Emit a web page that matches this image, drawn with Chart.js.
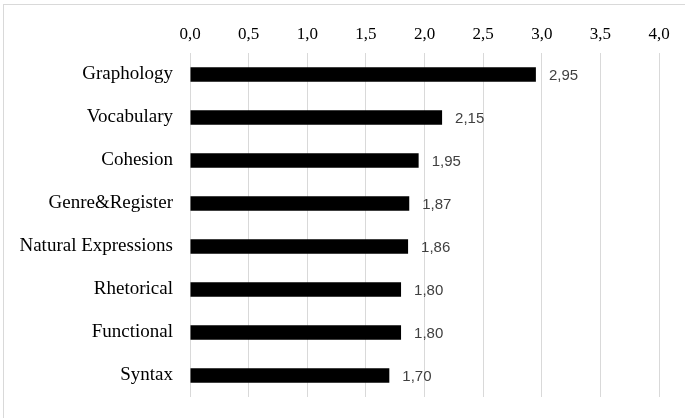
<!DOCTYPE html>
<html>
<head>
<meta charset="utf-8">
<script src="https://cdn.jsdelivr.net/npm/chart.js@4/dist/chart.umd.min.js"></script>
<style>
  html, body { margin: 0; padding: 0; background: #fff; }
  #wrap { width: 685px; height: 418px; }
</style>
</head>
<body>
<div id="wrap"><canvas id="myChart" width="685" height="418"></canvas></div>
<script>
// Données du graphique
const categories = ['Graphology', 'Vocabulary', 'Cohesion', 'Genre&Register', 'Natural Expressions', 'Rhetorical', 'Functional', 'Syntax'];
const scores = [2.95, 2.15, 1.95, 1.87, 1.86, 1.80, 1.80, 1.70];
const xTickValues = [0, 0.5, 1, 1.5, 2, 2.5, 3, 3.5, 4];

const serif = "'Liberation Serif', 'DejaVu Serif', serif";

// format décimal avec virgule
function fr(v, d) {
    return Number(v).toFixed(d).replace('.', ',');
}

// étiquettes de valeur au bout des barres
const valueLabels = {
    id: 'valueLabels',
    afterDatasetsDraw(chart) {
        const ctx = chart.ctx;
        const meta = chart.getDatasetMeta(0);
        const xScale = chart.scales.x;
        ctx.save();
        ctx.fillStyle = '#404040';
        ctx.font = "15px 'Liberation Sans', Arial, sans-serif";
        ctx.textAlign = 'left';
        ctx.textBaseline = 'middle';
        meta.data.forEach((bar, i) => {
            const v = chart.data.datasets[0].data[i];
            ctx.fillText(fr(v, 2), xScale.getPixelForValue(v) + 13, bar.y + 1);
        });
        ctx.restore();
    }
};

// cadre gris autour du graphique
const frame = {
    id: 'frame',
    beforeDraw(chart) {
        const ctx = chart.ctx;
        ctx.save();
        ctx.strokeStyle = '#d9d9d9';
        ctx.lineWidth = 1;
        ctx.strokeRect(3.5, 4.5, chart.width + 10, chart.height + 10);
        ctx.restore();
    }
};

const ctx = document.getElementById('myChart').getContext('2d');
const myChart = new Chart(ctx, {
    type: 'bar',
    data: {
        labels: categories,
        datasets: [{
            data: scores,
            backgroundColor: '#000000',
            borderWidth: 0,
            barPercentage: 0.34,
            categoryPercentage: 1
        }]
    },
    options: {
        indexAxis: 'y',
        responsive: false,
        animation: false,
        layout: { padding: { top: 0, right: 26, bottom: 21, left: 0 } },
        plugins: {
            legend: { display: false },
            tooltip: { enabled: false }
        },
        scales: {
            x: {
                position: 'top',
                min: 0,
                max: 4,
                afterBuildTicks(scale) {
                    scale.ticks = xTickValues.map(v => ({ value: v }));
                },
                afterFit(scale) { scale.height = 53; },
                ticks: {
                    padding: 8,
                    color: '#000',
                    font: { family: serif, size: 17 },
                    callback: v => fr(v, 1)
                },
                grid: { color: '#d9d9d9', drawTicks: false },
                border: { display: false }
            },
            y: {
                afterFit(scale) { scale.width = 190; },
                ticks: {
                    padding: 9,
                    color: '#000',
                    font: { family: serif, size: 19 }
                },
                grid: { display: false },
                border: { display: false }
            }
        }
    },
    plugins: [frame, valueLabels]
});
</script>
</body>
</html>
